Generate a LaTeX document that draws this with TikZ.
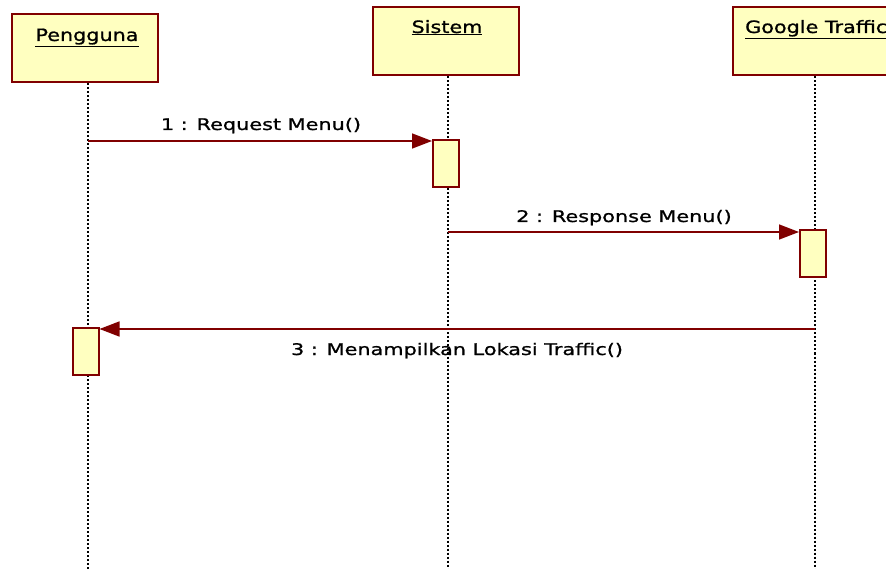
\documentclass[tikz,border=0pt]{standalone}
\usepackage{fontspec}
\newfontfamily\umlfont[FakeStretch=1.3,FakeBold=1]{DejaVu Sans}
\newfontfamily\headfont[FakeStretch=1.22,FakeBold=1]{DejaVu Sans}
\usetikzlibrary{arrows.meta}
\definecolor{umlborder}{RGB}{128,0,0}
\definecolor{umlfill}{RGB}{255,255,192}
\tikzset{
  headbox/.style={draw=umlborder, fill=umlfill, line width=2pt,
    minimum width=146pt, minimum height=68pt, inner sep=0pt},
  actbox/.style={draw=umlborder, fill=umlfill, line width=2pt,
    minimum width=26pt, minimum height=47pt, inner sep=0pt},
  lifeline/.style={line width=2pt, dash pattern=on 2pt off 2pt},
  msg/.style={draw=umlborder, line width=1.5pt,
    -{Triangle[length=20pt,width=15pt,fill=umlborder]}},
  headlabel/.style={font=\headfont\fontsize{17}{20}\selectfont, inner sep=0pt, anchor=base},
  msglabel/.style={font=\umlfont\fontsize{16}{19}\selectfont, inner sep=0pt, anchor=base},
}
\begin{document}
\begin{tikzpicture}[x=1pt,y=-1pt]
\useasboundingbox (0,0) rectangle (886,569);
\clip (0,0) rectangle (886,569);

% participant heads
\node[headbox] (p) at (85,48) {};
\node[headbox] (s) at (446,41.5) {};
\node[headbox, minimum width=164pt] (g) at (815,41.5) {};
\node[headlabel] (pl) at (87,41) {\underline{Pengguna}};
\node[headlabel] (sl) at (447,33) {\underline{Sistem}};
\node[headlabel, anchor=base west] (gl) at (745,33) {\underline{Google Traffic}};

% lifeline ends at the bottom
\coordinate (pbot) at (88,569);
\coordinate (sbot) at (447.5,569);
\coordinate (gbot) at (815,569);

% message labels
\node[msglabel] (l1) at (261,130) {1 : Request Menu()};
\node[msglabel] (l2) at (624,222) {2 : Response Menu()};
\node[msglabel] (l3) at (457,355) {3 : Menampilkan Lokasi Traffic()};

% lifelines
\draw[lifeline] (p.south -| pbot) -- (pbot);
\draw[lifeline] (s.south -| sbot) -- (sbot);
\draw[lifeline] (g.south -| gbot) -- (gbot);

% activation bars
\node[actbox] (sa) at (446,163.5) {};
\node[actbox] (ga) at (813,254) {};
\node[actbox] (pa) at (85.5,351) {};

% messages
\coordinate (m1) at (88,141);
\coordinate (m2) at (447.5,232);
\coordinate (m3) at (815,329);
\draw[msg] (m1) -- (m1 -| sa.west);
\draw[msg] (m2) -- (m2 -| ga.west);
\draw[msg] (m3) -- (m3 -| pa.east);
\end{tikzpicture}
\end{document}
